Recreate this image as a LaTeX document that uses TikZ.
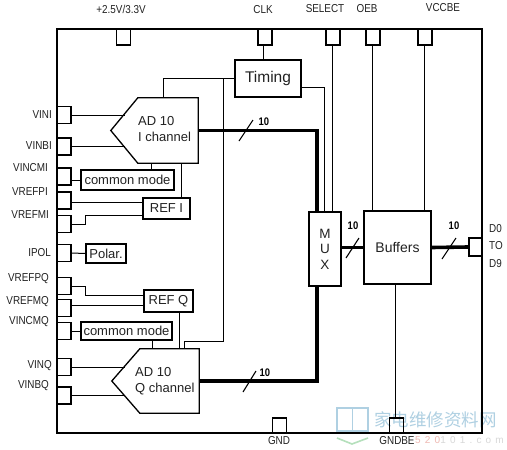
\documentclass[tikz,border=0pt]{standalone}
\usepackage{fontspec}
\setmainfont{Liberation Sans}
\newfontfamily\cjkfont{Noto Sans CJK SC}
\newfontfamily\narrowfont[FakeStretch=0.86]{Liberation Sans}
\newfontfamily\spacedfont[LetterSpace=42]{Liberation Sans}
\usetikzlibrary{calc}
\definecolor{inkgray}{HTML}{222222}
\definecolor{markblue}{HTML}{AFD0E2}
\definecolor{markgreen}{HTML}{B5E0BC}
\definecolor{markred}{HTML}{EFB9B2}
\definecolor{markgray}{HTML}{D8D8D8}
\newcommand{\fs}[1]{\fontsize{#1}{#1}\selectfont}
\tikzset{
  frame/.style={line width=1.3pt, draw=black},
  pinbox/.style={draw=black, line width=1.2pt, inner sep=0pt, minimum width=14pt, minimum height=17pt},
  block/.style={draw=black, line width=1.3pt, inner sep=0pt, align=center, text=inkgray},
  pinlabel/.style={inner sep=0pt, text=inkgray, font=\narrowfont\fs{11.5}},
  wire/.style={line width=0.6pt, draw=black},
  midwire/.style={line width=1pt, draw=black},
  bus/.style={line width=3.6pt, draw=black},
  slash/.style={line width=1.1pt, draw=black},
  buswidth/.style={inner sep=0pt, font=\narrowfont\fs{11}\bfseries}
}
\begin{document}
\begin{tikzpicture}[x=1pt,y=-1pt]
  \useasboundingbox (0,0) rectangle (507,450);
  \fill[white] (0,0) rectangle (507,450);

  % watermark
  \begin{scope}[markblue, line width=1.5pt]
    \draw (337,408) rectangle (368,431);
    \draw (352.5,408) -- (352.5,431);
  \end{scope}
  \draw[markgreen, line width=1.6pt] (337,438) -- (352,444) -- (368,438);
  \node[inner sep=0pt, anchor=west, text=markblue, font=\cjkfont\fs{17.5}] (marktext) at (374,420) {家电维修资料网};
  \node[inner sep=0pt, anchor=west, text=markred, font=\spacedfont\fs{10}] (markurl) at (415,440) {520\textcolor{markgray}{101.com}};

  \draw[frame] (57,29) rectangle (482,433);

  % left pins
  \foreach \n/\y/\ly/\lx/\t in {vini/115/115/52/VINI,vinbi/146.5/146/52/VINBI,vincmi/176.5/168/48/VINCMI,
    vrefpi/200.5/192/48/VREFPI,vrefmi/224/215/49/VREFMI,ipol/253/253/51/IPOL,vrefpq/286/279/49/VREFPQ,
    vrefmq/308/302/49/VREFMQ,vincmq/331/322/49/VINCMQ,vinq/367/366/52/VINQ,vinbq/395.5/386/49/VINBQ} {
    \node[pinbox] (\n) at (64,\y) {};
    \node[pinlabel, anchor=east] (\n text) at (\lx,\ly) {\t};
  }
  % top and bottom pins
  \foreach \n/\x/\lx/\ly/\t in {vdd/123.5/121/9/{+2.5V/3.3V},clk/265/263/10/CLK,select/333/325/9/SELECT,
    oeb/373/367/9/OEB,vccbe/425/443/8/VCCBE} {
    \node[pinbox, minimum height=16pt] (\n) at (\x,37) {};
    \node[pinlabel] (\n text) at (\lx,\ly) {\t};
  }
  \foreach \n/\x/\lx/\t in {gnd/279.5/279/GND,gndbe/396.5/397/GNDBE} {
    \node[pinbox, minimum height=15pt] (\n) at (\x,425.5) {};
    \node[pinlabel] (\n text) at (\lx,441) {\t};
  }
  \node[pinbox, minimum width=13pt, minimum height=18pt] (dout) at (475.5,247) {};
  \node[pinlabel, anchor=west] (d0) at (489,229) {D0};
  \node[pinlabel, anchor=west] (dto) at (489,246) {TO};
  \node[pinlabel, anchor=west] (d9) at (489,264) {D9};

  % blocks
  \node[block, minimum width=66pt, minimum height=37pt, font=\fs{15.5}] (timing) at (268,78.5) {Timing};
  \node[inner sep=0pt, minimum width=60pt, minimum height=65pt] (adi) at (168,130.5) {};
  \node[inner sep=0pt, minimum width=59pt, minimum height=64pt] (adq) at (169.5,381) {};
  \draw[block] (adi.south west) -- (adi.south east) -- (adi.north east) -- (adi.north west) -- ($(adi.west)+(-27,0)$) -- cycle;
  \draw[block] (adq.south west) -- (adq.south east) -- (adq.north east) -- (adq.north west) -- ($(adq.west)+(-28,0)$) -- cycle;
  \node[anchor=west, align=left, inner sep=0pt, text=inkgray, font=\fs{13}] (aditext) at (138,129) {AD 10\\[3pt]I channel};
  \node[anchor=west, align=left, inner sep=0pt, text=inkgray, font=\fs{13}] (adqtext) at (135,381.5) {AD 10\\[3pt]Q channel};
  \node[block, minimum width=93pt, minimum height=20pt, font=\fs{13}] (commi) at (127.5,180) {common mode};
  \node[block, minimum width=47pt, minimum height=21pt, font=\fs{13}] (refi) at (166.5,208.5) {REF I};
  \node[block, minimum width=40pt, minimum height=19pt, font=\fs{13}] (polar) at (106,253.5) {Polar.};
  \node[block, minimum width=49pt, minimum height=22pt, font=\fs{13}] (refq) at (168.5,301) {REF Q};
  \node[block, minimum width=91pt, minimum height=18pt, font=\fs{13}] (commq) at (126.5,331) {common mode};
  \node[block, minimum width=32pt, minimum height=74pt, font=\fs{13.5}] (mux) at (325,249) {M\\[2pt]U\\[2pt]X};
  \node[block, minimum width=67pt, minimum height=73pt, font=\fs{14}] (buffers) at (397.5,247.5) {Buffers};

  % input wires
  \draw[midwire] (vini.east) -- (vini.east -| 125,0);
  \draw[midwire] (vinbi.east) -- (vinbi.east -| 125,0);
  \draw[midwire] (vinq.east |- 0,367) -- (125,367);
  \draw[midwire] (vinbq.east |- 0,395) -- (125,395);
  \draw[midwire] (ipol.east) -- (polar.west);
  \draw[wire] (vincmi.east |- commi.west) -- (commi.west);
  \draw[wire] (vincmq.east) -- (commq.west);
  \draw[wire] (vrefpi.east |- 0,202) -- (refi.west |- 0,202);
  \draw[wire] (vrefmi.east) -| (85,215) -- (refi.west |- 0,215);
  \draw[wire] (vrefpq.east) -| (85,295) -- (refq.west |- 0,295);
  \draw[wire] (vrefmq.east |- 0,305) -- (refq.west |- 0,305);
  \draw[midwire] (151,0 |- commi.north) -- (151,0 |- adi.south);
  \draw[midwire] (181,0 |- refi.north) -- (181,0 |- adi.south);
  \draw[midwire] (152,0 |- commq.south) -- (152,0 |- adq.north);
  \draw[midwire] (179,0 |- refq.south) -- (179,0 |- adq.north);

  % timing and control wires
  \draw[wire] (timing.west) -| (163,0 |- adi.north);
  \draw[wire] (223,0 |- timing.west) -- (223,341) -| (184,0 |- adq.north);
  \draw[wire] (timing.east |- 0,87) -| (324,0 |- mux.north);
  \draw[wire] (clk.south -| 263,0) -- (263,0 |- timing.north);
  \draw[wire] (select.south -| 332.5,0) -- (332.5,0 |- mux.north);
  \draw[wire] (oeb.south -| 372.5,0) -- (372.5,0 |- buffers.north);
  \draw[wire] (vccbe.south -| 424.5,0) -- (424.5,0 |- buffers.north);
  \draw[wire] (395.5,0 |- buffers.south) -- (395.5,0 |- gndbe.north);

  % buses
  \draw[bus] (adi.east) -| (317,0 |- mux.north);
  \draw[bus] (adq.east) -| (317,0 |- mux.south);
  \draw[line width=2.6pt] (mux.east |- buffers.west) -- (buffers.west);
  \draw[bus] (buffers.east) -- (dout.west);
  \draw[slash] (239,141) -- (253,120);
  \draw[slash] (243,392) -- (256,371);
  \draw[slash] (346,258) -- (359,238);
  \draw[slash] (442,259) -- (456,238);
  \node[buswidth] (wi) at (264,122) {10};
  \node[buswidth] (wq) at (265,373) {10};
  \node[buswidth] (wm) at (353,226) {10};
  \node[buswidth] (wb) at (454,226) {10};
\end{tikzpicture}
\end{document}
